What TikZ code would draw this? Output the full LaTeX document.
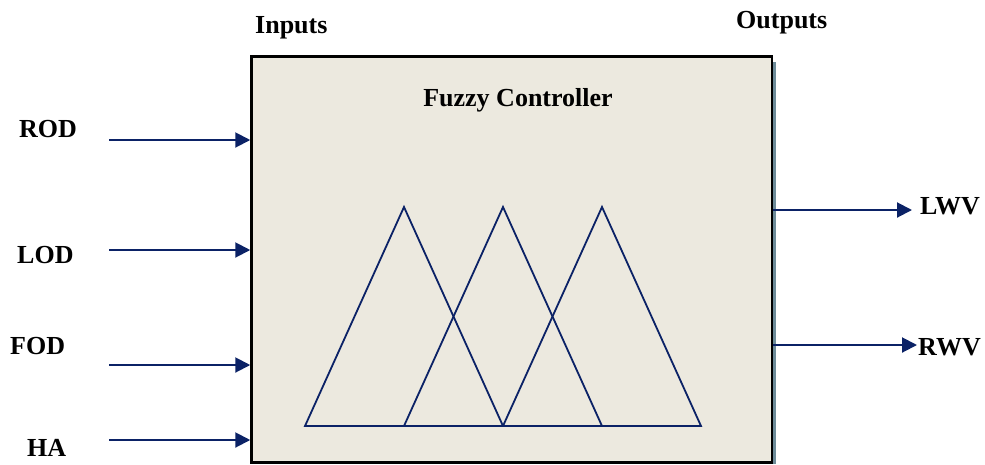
\documentclass[tikz,border=0pt]{standalone}
\usepackage{fontspec}
\setmainfont{Liberation Serif}
\usetikzlibrary{arrows.meta}
\definecolor{navy}{HTML}{0B2266}
\definecolor{panel}{HTML}{ECE9DF}
\definecolor{strip}{HTML}{6E8C99}
\begin{document}
\begin{tikzpicture}[x=1pt,y=-1pt,
  lbl/.style={font=\fontsize{26}{30}\selectfont\bfseries, inner sep=0pt, anchor=base west},
  sig/.style={draw=navy, line width=2pt, -{Triangle[length=15pt,width=15pt]}},
  tri/.style={draw=navy, line width=1.8pt, line join=miter}]
\useasboundingbox (0,0) rectangle (985,464);
% shadow
\fill[strip] (772,62) rectangle (776,464);
\draw[gray, line width=1pt] (250,55) -- (773,55);
% controller box
\node[draw=black, fill=panel, line width=2.5pt, minimum width=520.5pt,
      minimum height=406pt, inner sep=0pt] (box) at (511.75,259.5) {};
\node[lbl, anchor=base] (title) at (518,106) {Fuzzy Controller};
% membership triangles
\draw[tri] (305,426) -- (404,207) -- (503,426) -- cycle;
\draw[tri] (404,426) -- (503,207) -- (602,426) -- cycle;
\draw[tri] (503,426) -- (602,207) -- (701,426) -- cycle;
% headings
\node[lbl] (inputs) at (255,33) {Inputs};
\node[lbl] (outputs) at (736,28) {Outputs};
% input labels
\node[lbl] (rod) at (19,137) {ROD};
\node[lbl] (lod) at (17,263) {LOD};
\node[lbl] (fod) at (10,354) {FOD};
\node[lbl] (ha) at (27,456) {HA};
% output labels
\node[lbl] (lwv) at (920,214) {LWV};
\node[lbl] (rwv) at (918,355) {RWV};
% input arrows
\coordinate (rodS) at (109,140);
\coordinate (lodS) at (109,250);
\coordinate (fodS) at (109,365);
\coordinate (haS) at (109,440);
\draw[sig] (rodS) -- (rodS -| box.west);
\draw[sig] (lodS) -- (lodS -| box.west);
\draw[sig] (fodS) -- (fodS -| box.west);
\draw[sig] (haS) -- (haS -| box.west);
% output arrows
\coordinate (lwvE) at (912,210);
\coordinate (rwvE) at (917,345);
\draw[sig] (lwvE -| box.east) -- (lwvE);
\draw[sig] (rwvE -| box.east) -- (rwvE);
\end{tikzpicture}
\end{document}
